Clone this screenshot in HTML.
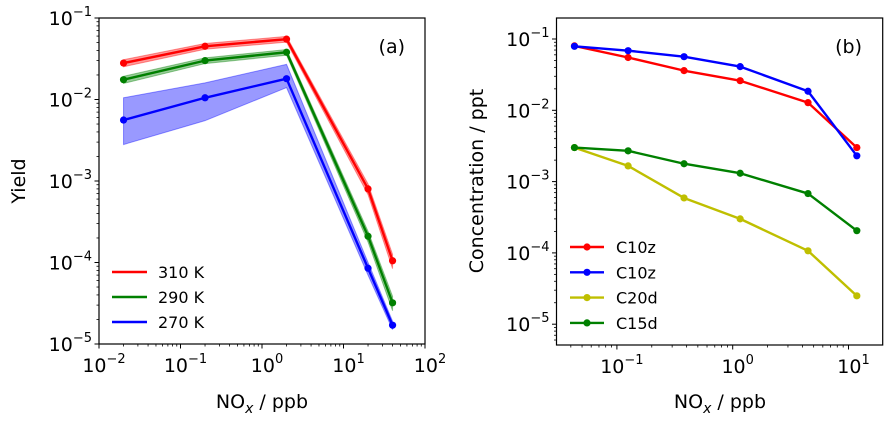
<!DOCTYPE html>
<html><head><meta charset="utf-8"><style>
body{margin:0;background:#fff}
svg{display:block;font-family:"DejaVu Sans","Liberation Sans",sans-serif}
</style></head><body>
<svg id="chart" width="894" height="421" viewBox="0 0 894 421" xmlns="http://www.w3.org/2000/svg"></svg>
<script>
// Panel (a) data
const xA = [0.02, 0.2, 2, 20, 40];
const red310 = [0.028, 0.045, 0.055, 8e-4, 1.05e-4];
const green290 = [0.0175, 0.030, 0.038, 2.1e-4, 3.2e-5];
const blue270 = [0.0056, 0.0105, 0.018, 8.5e-5, 1.7e-5];
const blueLow = [0.0028, 0.0055, 0.014, 7e-5, 1.5e-5];
const blueHigh = [0.0105, 0.016, 0.027, 1.0e-4, 1.9e-5];
const relBand = [0.1, 0.08, 0.08, 0.15, 0.2];
const namesA = ["310 K", "290 K", "270 K"];
// Panel (b) data
const xB = [0.043, 0.125, 0.38, 1.16, 4.47, 11.8];
const c10zRed = [0.080, 0.055, 0.036, 0.026, 0.0128, 0.0030];
const c10zBlue = [0.079, 0.0686, 0.0565, 0.041, 0.0185, 0.0023];
const c20d = [0.0030, 0.00166, 0.00059, 0.00030, 0.000107, 2.5e-5];
const c15d = [0.0030, 0.0027, 0.00178, 0.00131, 0.00068, 0.000205];
const namesB = ["C10z", "C10z", "C20d", "C15d"];
const ticksExpA = [-2, -1, 0, 1, 2];
const ticksYA = [-5, -4, -3, -2, -1];
const ticksXB = [-1, 0, 1];
const ticksYB = [-5, -4, -3, -2, -1];

const NS = "http://www.w3.org/2000/svg";
const svg = document.getElementById("chart");
function mk(tag, attrs, parent) {
  const e = document.createElementNS(NS, tag);
  for (const k in attrs) e.setAttribute(k, attrs[k]);
  (parent || svg).appendChild(e);
  return e;
}
function logScale(d0, d1, r0, r1) {
  return v => r0 + (Math.log10(v) - d0) / (d1 - d0) * (r1 - r0);
}
function expLabel(parent, x, y, exp, anchor) {
  const t = mk("text", {x: x, y: y, "font-size": 19, "text-anchor": anchor, fill: "#000"}, parent);
  
  
  const a = document.createElementNS(NS, "tspan"); a.textContent = "10"; t.appendChild(a);
  const b = document.createElementNS(NS, "tspan"); b.setAttribute("dy", -9); b.setAttribute("font-size", 13);
  b.textContent = exp < 0 ? "\u2212" + (-exp) : String(exp); t.appendChild(b);
}
function axes(g, L, T, R, B, sx, sy, xd, yd, xt, yt) {
  for (let d = Math.floor(xd[0]); d < xd[1]; d++) for (let m = 2; m < 10; m++) {
    const v = m * Math.pow(10, d), lv = Math.log10(v);
    if (lv < xd[0] || lv > xd[1]) continue;
    const X = sx(v); mk("line", {x1: X, x2: X, y1: B, y2: B + 2.5, stroke: "#000", "stroke-width": 0.8}, g);
  }
  for (let d = Math.floor(yd[0]); d < yd[1]; d++) for (let m = 2; m < 10; m++) {
    const v = m * Math.pow(10, d), lv = Math.log10(v);
    if (lv < yd[0] || lv > yd[1]) continue;
    const Y = sy(v); mk("line", {x1: L - 2.5, x2: L, y1: Y, y2: Y, stroke: "#000", "stroke-width": 0.8}, g);
  }
  xt.forEach(e => {
    const X = sx(Math.pow(10, e));
    mk("line", {x1: X, x2: X, y1: B, y2: B + 4.5, stroke: "#000", "stroke-width": 1}, g);
    expLabel(g, X + 5, B + 28, e, "middle");
  });
  yt.forEach(e => {
    const Y = sy(Math.pow(10, e));
    mk("line", {x1: L - 4.5, x2: L, y1: Y, y2: Y, stroke: "#000", "stroke-width": 1}, g);
    expLabel(g, L - 7, Y + 7, e, "end");
  });
}
function series(g, xs, ys, color, name) {
  const s = mk("g", {}, g);
  
  
  const pts = xs.map((x, i) => g._sx(x) + "," + g._sy(ys[i])).join(" ");
  mk("polyline", {points: pts, fill: "none", stroke: color, "stroke-width": 2.4, "stroke-linejoin": "round"}, s);
  xs.forEach((x, i) => mk("circle", {cx: g._sx(x), cy: g._sy(ys[i]), r: 3.6, fill: color}, s));
}
function band(g, xs, lo, hi, color, op, name) {
  const p = xs.map((x, i) => g._sx(x) + "," + g._sy(hi[i])).concat(xs.map((x, i) => g._sx(x) + "," + g._sy(lo[i])).reverse()).join(" ");
  const e = mk("polygon", {points: p, fill: color, "fill-opacity": op, stroke: color, "stroke-opacity": op, "stroke-width": 1}, g);
  
  
}

// Panel A
const gA = mk("g", {});


const LA = 99, RA = 425, TA = 18, BA = 344;
gA._sx = logScale(-2, 2, LA, RA);
gA._sy = logScale(-5, -1, BA, TA);
band(gA, xA, red310.map((v, i) => v * (1 - relBand[i])), red310.map((v, i) => v * (1 + relBand[i])), "#ff0000", 0.4, "band-310k");
band(gA, xA, green290.map((v, i) => v * (1 - relBand[i])), green290.map((v, i) => v * (1 + relBand[i])), "#008000", 0.4, "band-290k");
band(gA, xA, blueLow, blueHigh, "#0000ff", 0.4, "band-270k");
series(gA, xA, red310, "#ff0000", "series-310k");
series(gA, xA, green290, "#008000", "series-290k");
series(gA, xA, blue270, "#0000ff", "series-270k");
mk("rect", {x: LA, y: TA, width: RA - LA, height: BA - TA, fill: "none", stroke: "#000", "stroke-width": 1.2}, gA);
axes(gA, LA, TA, RA, BA, gA._sx, gA._sy, [-2, 2], [-5, -1], ticksExpA, ticksYA);
let t = mk("text", {x: 405, y: 53, "font-size": 19, "text-anchor": "end"}, gA); t.textContent = "(a)";
 
const colA = ["#ff0000", "#008000", "#0000ff"];
namesA.forEach((n, i) => {
  const lg = mk("g", {}, gA);
  
  
  const y = 272 + i * 25;
  mk("line", {x1: 112, x2: 147, y1: y, y2: y, stroke: colA[i], "stroke-width": 2.4}, lg);
  const tx = mk("text", {x: 158, y: y + 6, "font-size": 16}, lg); tx.textContent = n;
});
t = mk("text", {x: 262, y: 408, "font-size": 19, "text-anchor": "middle"}, gA);
 
t.innerHTML = 'NO<tspan dy="5" font-size="14" font-style="italic">x</tspan><tspan dy="-5"> / ppb</tspan>';
t = mk("text", {x: 0, y: 0, "font-size": 19, "text-anchor": "middle", transform: "translate(25,181) rotate(-90)"}, gA);
t.textContent = "Yield";
 

// Panel B
const gB = mk("g", {});


const LB = 556.5, RB = 882.7, TB = 18, BB = 345;
const dpx = 115.8, x0 = 732.7;
const xd0 = -(x0 - LB) / dpx, xd1 = (RB - x0) / dpx;
const ydp = 71.3, y1 = 39;
const yd1 = -1 + (y1 - TB) / ydp, yd0 = -1 - (BB - y1) / ydp;
gB._sx = logScale(xd0, xd1, LB, RB);
gB._sy = logScale(yd0, yd1, BB, TB);
series(gB, xB, c10zRed, "#ff0000", "series-c10z-red");
series(gB, xB, c10zBlue, "#0000ff", "series-c10z-blue");
series(gB, xB, c20d, "#bfbf00", "series-c20d");
series(gB, xB, c15d, "#008000", "series-c15d");
mk("rect", {x: LB, y: TB, width: RB - LB, height: BB - TB, fill: "none", stroke: "#000", "stroke-width": 1.2}, gB);
axes(gB, LB, TB, RB, BB, gB._sx, gB._sy, [xd0, xd1], [yd0, yd1], ticksXB, ticksYB);
t = mk("text", {x: 862, y: 53, "font-size": 19, "text-anchor": "end"}, gB); t.textContent = "(b)";
 
const colB = ["#ff0000", "#0000ff", "#bfbf00", "#008000"];
namesB.forEach((n, i) => {
  const lg = mk("g", {}, gB);
  
  
  const y = 247 + i * 25.3;
  mk("line", {x1: 570, x2: 604, y1: y, y2: y, stroke: colB[i], "stroke-width": 2.4}, lg);
  mk("circle", {cx: 587, cy: y, r: 3.6, fill: colB[i]}, lg);
  const tx = mk("text", {x: 616, y: y + 6, "font-size": 16}, lg); tx.textContent = n;
});
t = mk("text", {x: 720, y: 408, "font-size": 19, "text-anchor": "middle"}, gB);
 
t.innerHTML = 'NO<tspan dy="5" font-size="14" font-style="italic">x</tspan><tspan dy="-5"> / ppb</tspan>';
t = mk("text", {x: 0, y: 0, "font-size": 19, "text-anchor": "middle", transform: "translate(483,181) rotate(-90)"}, gB);
t.textContent = "Concentration / ppt";
 
</script>
</body></html>
